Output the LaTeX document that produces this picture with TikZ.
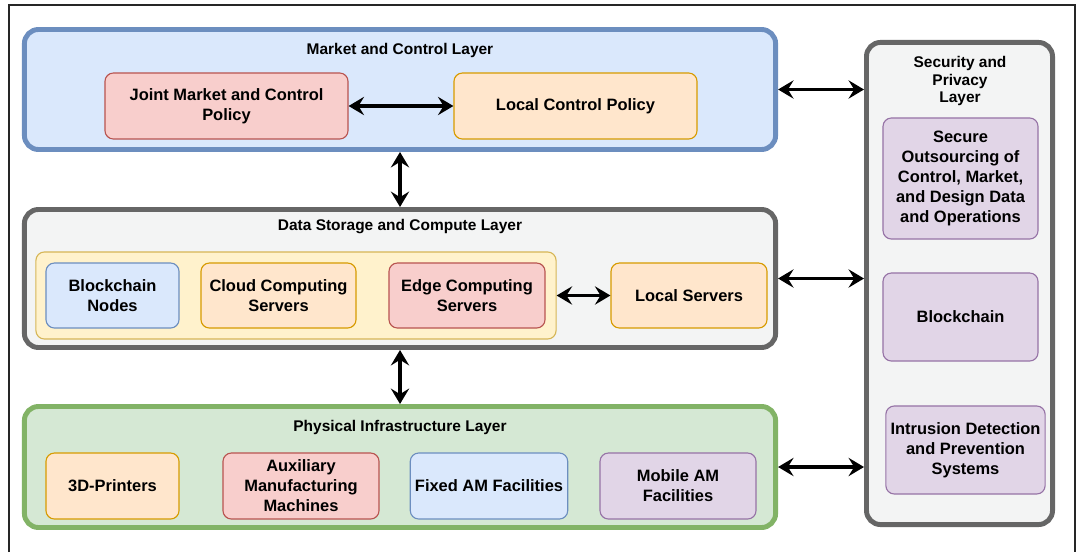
\documentclass[tikz,border=0pt]{standalone}
\usepackage{fontspec}
\setmainfont{Liberation Sans}
\usetikzlibrary{arrows.meta}

\definecolor{bluefill}{HTML}{DAE8FC}
\definecolor{bluedraw}{HTML}{6C8EBF}
\definecolor{orangefill}{HTML}{FFE6CC}
\definecolor{orangedraw}{HTML}{D79B00}
\definecolor{redfill}{HTML}{F8CECC}
\definecolor{reddraw}{HTML}{B85450}
\definecolor{yellowfill}{HTML}{FFF2CC}
\definecolor{yellowdraw}{HTML}{D6B656}
\definecolor{greenfill}{HTML}{D5E8D4}
\definecolor{greendraw}{HTML}{82B366}
\definecolor{purplefill}{HTML}{E1D5E7}
\definecolor{purpledraw}{HTML}{9673A6}
\definecolor{grayfill}{HTML}{F3F4F4}
\definecolor{graydraw}{HTML}{666666}

\begin{document}
\begin{tikzpicture}[x = 0.025cm, y = -0.025cm,
                        layer/.style = {draw, rounded corners = 10pt, line width = 3.5pt},
                        box/.style = {draw, rounded corners = 6pt, line width = 0.8pt, align = center,
                                      font = \fontsize{11.7}{14.2}\selectfont\bfseries},
                        blue/.style = {box, fill = bluefill, draw = bluedraw},
                        orange/.style = {box, fill = orangefill, draw = orangedraw},
                        red/.style = {box, fill = redfill, draw = reddraw},
                        purple/.style = {box, fill = purplefill, draw = purpledraw},
                        title/.style = {align = center, font = \fontsize{11}{12.8}\selectfont\bfseries},
                        link/.style = {{Stealth[length = 11pt, width = 13pt, inset = 4pt]}-{Stealth[length = 11pt, width = 13pt, inset = 4pt]},
                                       line width = 2.2pt}]
      \useasboundingbox (0, 0) rectangle (1083, 552);
      \draw [line width = 0.8pt, black!85] (9, 552) -- (9, 5) -- (1075, 5) -- (1075, 552);

      \node [layer, fill = bluefill, draw = bluedraw, minimum width = 18.775cm, minimum height = 3.0cm] (mkt) at (400, 89.5){};
      \node [title] at (400, 50) {Market and Control Layer};
      \node [red, minimum width = 6.075cm, minimum height = 1.65cm] (jmc) at (226.5, 106) {Joint Market and Control\\Policy};
      \node [orange, minimum width = 6.075cm, minimum height = 1.65cm] (lcp) at (575.5, 106) {Local Control Policy};

      \node [layer, fill = grayfill, draw = graydraw, minimum width = 18.775cm, minimum height = 3.45cm] (dsc) at (400, 278.5){};
      \node [title] at (400, 227) {Data Storage and Compute Layer};
      \node [box, fill = yellowfill, draw = yellowdraw, minimum width = 13cm, minimum height = 2.175cm] (grp) at (296, 295.5){};
      \node [blue, minimum width = 3.325cm, minimum height = 1.625cm] (bcn) at (112.5, 295.5) {Blockchain\\Nodes};
      \node [orange, minimum width = 3.875cm, minimum height = 1.625cm] (ccs) at (278.5, 295.5) {Cloud Computing\\Servers};
      \node [red, minimum width = 3.9cm, minimum height = 1.625cm] (ecs) at (467, 295.5) {Edge Computing\\Servers};
      \node [orange, minimum width = 3.9cm, minimum height = 1.625cm] (ls) at (689, 295.5) {Local Servers};

      \node [layer, fill = greenfill, draw = greendraw, minimum width = 18.775cm, minimum height = 3.025cm] (phy) at (400, 467){};
      \node [title] at (400, 427) {Physical Infrastructure Layer};
      \node [orange, minimum width = 3.325cm, minimum height = 1.65cm] (prn) at (112.5, 486) {3D-Printers};
      \node [red, minimum width = 3.9cm, minimum height = 1.65cm] (aux) at (301, 486) {Auxiliary\\Manufacturing\\Machines};
      \node [blue, minimum width = 3.9cm, minimum height = 1.65cm] (fam) at (489, 486) {Fixed AM Facilities};
      \node [purple, minimum width = 3.9cm, minimum height = 1.65cm] (mam) at (678, 486) {Mobile AM\\Facilities};

      \node [layer, fill = grayfill, draw = graydraw, minimum width = 4.65cm, minimum height = 12.05cm] (sec) at (959.5, 283.5){};
      \node [title] at (960, 81) {Security and\\Privacy\\Layer};
      \node [purple, minimum width = 3.875cm, minimum height = 3.025cm] (sod) at (960.5, 178.5) {Secure\\Outsourcing of\\Control, Market,\\and Design Data\\and Operations};
      \node [purple, minimum width = 3.875cm, minimum height = 2.2cm] (bc) at (960.5, 317) {Blockchain};
      \node [purple, minimum width = 3.875cm, minimum height = 2.2cm] (ids) at (965.5, 450) {Intrusion Detection\\and Prevention\\Systems};

      \draw [link] (jmc) -- (lcp);
      \draw [link] (grp) -- (ls);
      \draw [link] (mkt.south) -- (dsc.north);
      \draw [link] (dsc.south) -- (phy.north);
      \draw [link] (mkt.east) -- (mkt.east -| sec.west);
      \draw [link] (dsc.east) -- (dsc.east -| sec.west);
      \draw [link] (phy.east) -- (phy.east -| sec.west);
\end{tikzpicture}
\end{document}
